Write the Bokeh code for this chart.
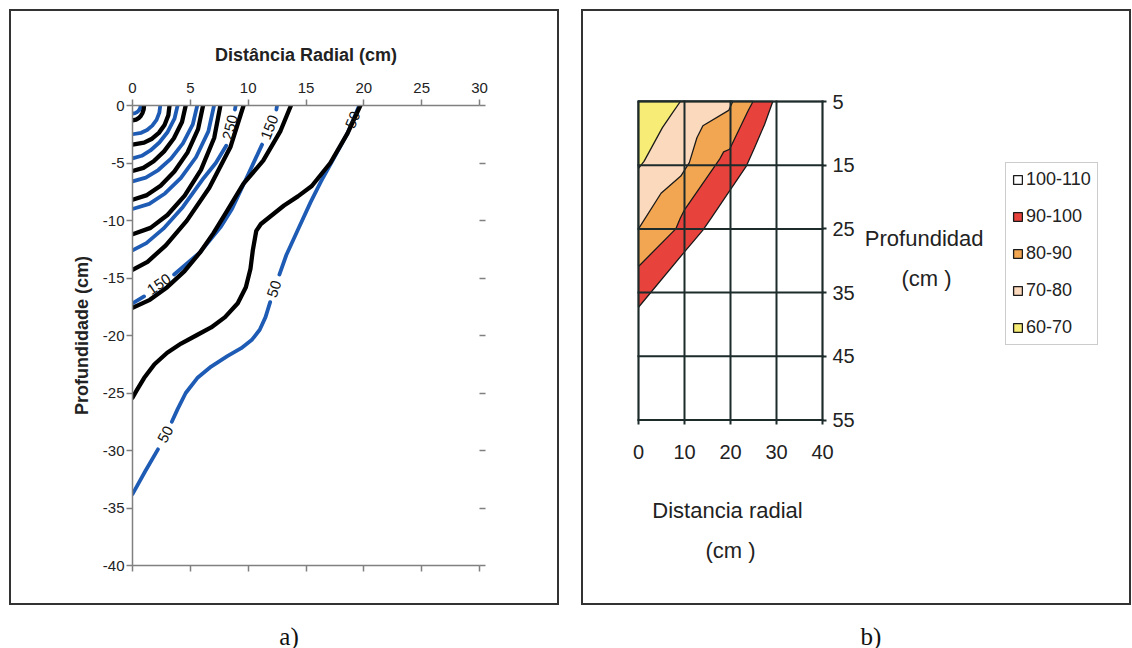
from bokeh.plotting import figure
from bokeh.models import Range1d, LinearAxis, FixedTicker, Label, Legend, LegendItem, Div
from bokeh.layouts import row, column
from bokeh.embed import file_html
from bokeh.resources import INLINE
from bokeh.core.properties import value

FONT = "Liberation Sans"

# ---------------- panel a) data ----------------
a_x_ticks = [0, 5, 10, 15, 20, 25, 30]
a_y_ticks = [0, -5, -10, -15, -20, -25, -30, -35, -40]

# black contours (radial x, depth y)
blk1_x = [1.0, 0.968, 0.866, 0.714, 0.527, 0.312, 0]
blk1_y = [0, -0.325, -0.65, -0.91, -1.105, -1.235, -1.3]
blk2_x = [3.2, 3.10, 2.77, 2.28, 1.69, 1.0, 0]
blk2_y = [0, -0.85, -1.7, -2.38, -2.89, -3.23, -3.4]
blk3_x = [4.6, 4.28, 3.58, 2.73, 1.83, 0.94, 0]
blk3_y = [0, -1.43, -2.85, -3.99, -4.85, -5.42, -5.7]
blk4_x = [6.1, 5.67, 4.75, 3.62, 2.43, 1.25, 0]
blk4_y = [0, -2.05, -4.1, -5.74, -6.97, -7.79, -8.2]
blk5_x = [7.6, 7.07, 5.92, 4.51, 3.02, 1.56, 0]
blk5_y = [0, -2.8, -5.6, -7.84, -9.52, -10.64, -11.2]
blk6_x = [9.6, 8.48, 6.64, 4.70, 2.88, 1.30, 0]
blk6_y = [0, -3.58, -7.15, -10.01, -12.16, -13.59, -14.3]
blk7_x = [13.7, 12.8, 11.3, 9.6, 8.1, 7.0, 5.9, 4.5, 3.0, 1.5, 0]
blk7_y = [0, -2.2, -4.8, -6.8, -9.3, -11.1, -12.7, -14.4, -15.8, -16.9, -17.6]
blk8_x = [19.7, 18.6, 17.1, 15.5, 14.3, 13.1, 11.1, 10.7, 10.4, 10.2, 9.8, 9.1, 8.0, 6.8,
          5.5, 4.2, 3.0, 1.9, 1.0, 0.4, 0]
blk8_y = [0, -2.4, -5.0, -7.0, -7.9, -8.7, -10.3, -10.9, -12.6, -14.2, -15.8, -17.2, -18.4,
          -19.3, -20.0, -20.7, -21.5, -22.5, -23.7, -24.7, -25.4]

# blue contours (segments interrupted by labels)
blu1_x = [0.7, 0.678, 0.606, 0.5, 0.369, 0.218, 0]
blu1_y = [0, -0.175, -0.35, -0.49, -0.595, -0.665, -0.7]
blu2_x = [2.4, 2.32, 2.08, 1.71, 1.26, 0.75, 0]
blu2_y = [0, -0.625, -1.25, -1.75, -2.125, -2.375, -2.5]
blu3_x = [3.9, 3.63, 3.04, 2.32, 1.55, 0.80, 0]
blu3_y = [0, -1.15, -2.3, -3.22, -3.91, -4.37, -4.6]
blu4_x = [5.6, 5.21, 4.36, 3.33, 2.23, 1.15, 0]
blu4_y = [0, -1.65, -3.3, -4.62, -5.61, -6.27, -6.6]
blu5_x = [7.05, 6.56, 5.49, 4.19, 2.81, 1.45, 0]
blu5_y = [0, -2.25, -4.5, -6.3, -7.65, -8.55, -9.0]
blu6a_x = [8.92, 8.86]
blu6a_y = [0, -0.35]
blu6b_x = [8.1, 7.2, 6.16, 4.36, 2.67, 1.20, 0]
blu6b_y = [-3.5, -5.0, -6.3, -8.82, -10.71, -11.97, -12.6]
blu7a_x = [12.5, 12.44]
blu7a_y = [0, -0.35]
blu7b_x = [11.2, 10.0, 8.6, 7.6, 5.8, 3.6]
blu7b_y = [-3.4, -6.0, -9.0, -10.6, -12.8, -14.7]
blu7c_x = [1.0, 0]
blu7c_y = [-16.6, -17.2]
blu8a_x = [19.6, 18.6, 17.4, 16.3, 15.4, 14.3, 13.3, 12.7]
blu8a_y = [0, -2.4, -4.6, -6.6, -8.4, -10.8, -13.0, -14.7]
blu8b_x = [11.9, 11.5, 11.0, 10.3, 9.4, 8.2, 6.8, 5.6, 4.6, 3.9, 3.4]
blu8b_y = [-17.1, -18.4, -19.5, -20.4, -21.1, -21.8, -22.7, -23.7, -25.0, -26.4, -27.5]
blu8c_x = [2.2, 1.1, 0]
blu8c_y = [-29.9, -31.8, -33.8]

# contour labels
lab_text = ["250", "150", "50", "150", "50", "50"]
lab_x = [8.45, 11.85, 19.05, 2.3, 12.25, 2.85]
lab_y = [-1.9, -1.9, -1.25, -15.55, -15.95, -28.6]
lab_angle = [1.33, 1.20, 1.17, 0.60, 1.24, 1.09]

# ---------------- panel b) data ----------------
b_x_ticks = [0, 10, 20, 30, 40]
b_y_ticks = [5, 15, 25, 35, 45, 55]
band_labels = ["100-110", "90-100", "80-90", "70-80", "60-70"]
white_r = [0, 40, 40, 0]
white_d = [5, 5, 55, 55]
red_r = [0, 29.2, 27.4, 25.2, 23.4, 15.8, 14.0, 10.0, 0]
red_d = [5, 5, 8.6, 12.3, 15.2, 23.3, 25.2, 28.6, 37.3]
orange_r = [0, 24.9, 23.8, 19.8, 18.5, 17.6, 10.0, 9.1, 8.1, 0]
orange_d = [5, 5, 6.5, 12.5, 12.9, 14.1, 22.0, 23.3, 25.0, 30.9]
peach_r = [0, 20.5, 19.6, 14.0, 12.7, 11.05, 9.2, 4.9, 0]
peach_d = [5, 5, 6.4, 8.8, 10.7, 14.6, 16.7, 19.4, 25.0]
yellow_r = [0, 9.1, 7.2, 5.2, 1.2, 0]
yellow_d = [5, 5, 7.0, 9.1, 14.4, 15.5]


def no_align(p):
    try:
        p.frame_align = False
    except AttributeError:
        pass


# ================= panel a) =================
AX = "#808080"
BLUE = "#1e5bb4"
p1 = figure(width=546, height=592, x_range=Range1d(0, 30), y_range=Range1d(-40, 0),
            x_axis_location="above", output_backend="svg", toolbar_location=None,
            min_border_left=121, min_border_right=78, min_border_top=94, min_border_bottom=38)
no_align(p1)
p1.add_layout(LinearAxis(ticker=FixedTicker(ticks=[], minor_ticks=a_x_ticks)), "below")
p1.add_layout(LinearAxis(ticker=FixedTicker(ticks=[], minor_ticks=a_y_ticks)), "right")
p1.grid.visible = False
p1.outline_line_color = None
p1.styles = {"outline": "2px solid #333333"}

p1.above[0].ticker = FixedTicker(ticks=a_x_ticks)
p1.left[0].ticker = FixedTicker(ticks=a_y_ticks)
p1.left[0].major_label_overrides = {t: str(t) for t in a_y_ticks}
for ax in p1.axis:
    ax.axis_line_color = AX
    ax.axis_line_width = 1.5
    ax.major_tick_line_color = AX
    ax.major_tick_line_width = 1.5
    ax.major_tick_out = 6
    ax.major_tick_in = 0
    ax.minor_tick_line_color = AX
    ax.minor_tick_line_width = 1.5
    ax.minor_tick_out = 6
    ax.minor_tick_in = 0
    ax.major_label_text_font = FONT
    ax.major_label_text_font_size = "15px"
    ax.major_label_text_color = "#222222"
    ax.major_label_standoff = 2
p1.above[0].minor_tick_line_color = None
p1.left[0].minor_tick_line_color = None
p1.right[0].axis_line_color = None

top = p1.above[0]
top.axis_label = "Distância Radial (cm)"
top.major_label_standoff = 7
left = p1.left[0]
left.axis_label = "Profundidade (cm)"
for ax in (top, left):
    ax.axis_label_text_font = FONT
    ax.axis_label_text_font_style = "bold"
    ax.axis_label_text_font_size = "18px"
    ax.axis_label_text_color = "#222222"
top.axis_label_standoff = 15
left.axis_label_standoff = 8

blue_xs = [blu1_x, blu2_x, blu3_x, blu4_x, blu5_x, blu6a_x, blu6b_x, blu7a_x, blu7b_x, blu7c_x,
           blu8a_x, blu8b_x, blu8c_x]
blue_ys = [blu1_y, blu2_y, blu3_y, blu4_y, blu5_y, blu6a_y, blu6b_y, blu7a_y, blu7b_y, blu7c_y,
           blu8a_y, blu8b_y, blu8c_y]
black_xs = [blk1_x, blk2_x, blk3_x, blk4_x, blk5_x, blk6_x, blk7_x, blk8_x]
black_ys = [blk1_y, blk2_y, blk3_y, blk4_y, blk5_y, blk6_y, blk7_y, blk8_y]

p1.multi_line(xs=blue_xs, ys=blue_ys, line_color=BLUE, line_width=3.8,
              line_cap="round", line_join="round")
p1.multi_line(xs=black_xs, ys=black_ys, line_color="#000000", line_width=4.3,
              line_cap="round", line_join="round")
p1.text(x=lab_x, y=lab_y, text=lab_text, angle=lab_angle, text_align="center",
        text_baseline="middle", text_font=value(FONT), text_font_size="15px",
        text_color="#111111")

# ================= panel b) =================
# frame spans the chart and the side texts; 4.6 px per cm radial, 6.37 px per cm depth
GR = "#1d2b2b"
B_LEFT, B_RIGHT, B_TOP, B_BOTTOM = 30, 24, 70, 28
SX, SY = 4.6, 6.37
fw = 546 - B_LEFT - B_RIGHT
fh = 592 - B_TOP - B_BOTTOM
x0 = b_x_ticks[0] - (55 - B_LEFT) / SX
y0 = b_y_ticks[0] - (90 - B_TOP) / SY
p2 = figure(width=546, height=592, x_range=Range1d(x0, x0 + fw / SX),
            y_range=Range1d(y0 + fh / SY, y0),
            y_axis_location="right", output_backend="svg", toolbar_location=None,
            min_border_left=B_LEFT, min_border_right=B_RIGHT, min_border_top=B_TOP,
            min_border_bottom=B_BOTTOM)
no_align(p2)
p2.styles = {"outline": "2px solid #333333"}
p2.grid.visible = False
p2.outline_line_color = None
p2.xaxis.ticker = FixedTicker(ticks=b_x_ticks)
p2.yaxis.ticker = FixedTicker(ticks=b_y_ticks)
p2.xaxis.fixed_location = b_y_ticks[-1]
p2.yaxis.fixed_location = b_x_ticks[-1]
p2.xaxis.bounds = (b_x_ticks[0], b_x_ticks[-1])
p2.yaxis.bounds = (b_y_ticks[0], b_y_ticks[-1])
for ax in p2.axis:
    ax.axis_line_color = None
    ax.major_tick_line_color = GR
    ax.major_tick_line_width = 2
    ax.major_tick_out = 4
    ax.major_tick_in = 0
    ax.minor_tick_line_color = None
    ax.major_label_text_font = FONT
    ax.major_label_text_font_size = "20px"
    ax.major_label_text_color = "#222222"
p2.xaxis.major_label_standoff = 21
p2.yaxis.major_label_standoff = 6

edge = dict(line_color="#1a1a1a", line_width=1.3)
r_white = p2.patch(white_r, white_d, fill_color="#ffffff", **edge)
r_red = p2.patch(red_r, red_d, fill_color="#e8423d", **edge)
r_orange = p2.patch(orange_r, orange_d, fill_color="#f3a652", **edge)
r_peach = p2.patch(peach_r, peach_d, fill_color="#fbd9bd", **edge)
r_yellow = p2.patch(yellow_r, yellow_d, fill_color="#f6ec76", **edge)

# grid lines of the chart at the tick positions
nx, ny = len(b_x_ticks), len(b_y_ticks)
p2.segment(x0=b_x_ticks, y0=[b_y_ticks[0]] * nx, x1=b_x_ticks, y1=[b_y_ticks[-1]] * nx,
           line_color=GR, line_width=2, line_cap="square")
p2.segment(x0=[b_x_ticks[0]] * ny, y0=b_y_ticks, x1=[b_x_ticks[-1]] * ny, y1=b_y_ticks,
           line_color=GR, line_width=2, line_cap="square")

legend = Legend(items=[LegendItem(label=band_labels[0], renderers=[r_white]),
                       LegendItem(label=band_labels[1], renderers=[r_red]),
                       LegendItem(label=band_labels[2], renderers=[r_orange]),
                       LegendItem(label=band_labels[3], renderers=[r_peach]),
                       LegendItem(label=band_labels[4], renderers=[r_yellow])],
                location=(1005 - 583 - B_LEFT, (11 + B_TOP + fh) - 345),
                glyph_width=11, glyph_height=11,
                label_height=21, spacing=16, padding=6, margin=0, label_standoff=3,
                label_text_font=FONT, label_text_font_size="18px", label_text_color="#222222",
                border_line_color="#9a9a9a", border_line_width=1, background_fill_color="#ffffff")
p2.add_layout(legend, "center")

lab_kw = dict(text_align="center", text_baseline="middle", text_font=FONT,
              text_font_size="22px", text_color="#222222")
p2.add_layout(Label(x=19.35, y=69.2, text="Distancia radial", **lab_kw))
p2.add_layout(Label(x=20.0, y=75.5, text="(cm )", **lab_kw))
p2.add_layout(Label(x=62.1, y=26.5, text="Profundidad", **lab_kw))
p2.add_layout(Label(x=62.6, y=32.8, text="(cm )", **lab_kw))

cap_style = ("margin-top:16px;font-family:'Liberation Serif';font-size:25px;"
             "line-height:25px;text-align:center;width:546px;color:#111;")
d1 = Div(text=f'<div style="{cap_style}">a)</div>', width=546, height=44)
d2 = Div(text=f'<div style="{cap_style}">b)</div>', width=546, height=44)

layout = column(row(p1, p2, spacing=26), row(d1, d2, spacing=26), margin=(11, 0, 0, 11))
open("out.html", "w").write(file_html(layout, INLINE))
